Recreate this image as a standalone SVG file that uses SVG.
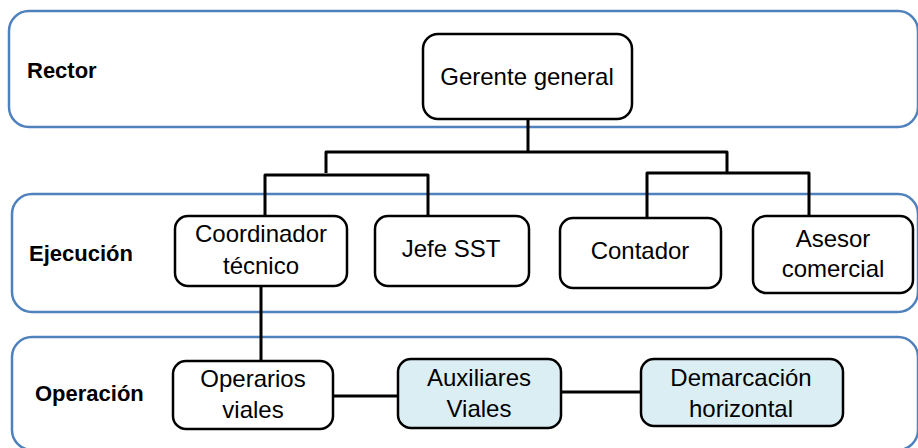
<svg xmlns="http://www.w3.org/2000/svg" width="918" height="448" viewBox="0 0 918 448">
<style>
.lane{fill:#ffffff;stroke:#4f81bd;stroke-width:2.5}
.box{fill:#ffffff;stroke:#000000;stroke-width:2.5}
.blue{fill:#dbeef4}
.lbl{font-family:"Liberation Sans",Arial,sans-serif;font-size:22px;font-weight:bold;fill:#000}
.t{font-family:"Liberation Sans",Arial,sans-serif;font-size:24px;fill:#000;text-anchor:middle}
.con{fill:none;stroke:#000;stroke-width:3;stroke-linejoin:round}
</style>
<rect width="918" height="448" fill="#ffffff"/>
<g id="lane-rector">
<rect class="lane" x="9" y="11" width="909" height="116" rx="20"/>
<text class="lbl" x="27" y="78">Rector</text>
</g>
<g id="lane-ejecucion">
<rect class="lane" x="12" y="194" width="906" height="118" rx="20"/>
<text class="lbl" x="29" y="261">Ejecución</text>
</g>
<g id="lane-operacion">
<rect class="lane" x="12" y="337" width="906" height="113" rx="20"/>
<text class="lbl" x="35" y="401">Operación</text>
</g>
<g id="connectors">
<path class="con" d="M528,119 V152 M326,173 V152 H727 V173"/>
<path class="con" d="M265,216 V175 H428 V216"/>
<path class="con" d="M647,218 V173 H809 V216"/>
<path class="con" d="M261,286 V361"/>
<path class="con" d="M333,396 H398"/>
<path class="con" d="M561,392 H641"/>
</g>
<g id="gerente">
<rect class="box" x="423" y="34" width="209" height="85" rx="15"/>
<text class="t" x="527" y="85">Gerente general</text>
</g>
<g id="coordinador">
<rect class="box" x="175" y="216" width="172" height="70" rx="13"/>
<text class="t" x="261" y="242">Coordinador</text>
<text class="t" x="261" y="274">técnico</text>
</g>
<g id="jefe">
<rect class="box" x="375" y="216" width="154" height="70" rx="13"/>
<text class="t" x="451" y="257">Jefe SST</text>
</g>
<g id="contador">
<rect class="box" x="560" y="218" width="161" height="70" rx="13"/>
<text class="t" x="640" y="259">Contador</text>
</g>
<g id="asesor">
<rect class="box" x="753" y="216" width="160" height="77" rx="13"/>
<text class="t" x="833" y="247">Asesor</text>
<text class="t" x="833" y="277">comercial</text>
</g>
<g id="operarios">
<rect class="box" x="173" y="361" width="160" height="68" rx="13"/>
<text class="t" x="253" y="387">Operarios</text>
<text class="t" x="253" y="418">viales</text>
</g>
<g id="auxiliares">
<rect class="box blue" x="398" y="359" width="163" height="69" rx="13"/>
<text class="t" x="479" y="386">Auxiliares</text>
<text class="t" x="479" y="417">Viales</text>
</g>
<g id="demarcacion">
<rect class="box blue" x="641" y="359" width="202" height="67" rx="13"/>
<text class="t" x="741" y="386">Demarcación</text>
<text class="t" x="741" y="417">horizontal</text>
</g>
</svg>
